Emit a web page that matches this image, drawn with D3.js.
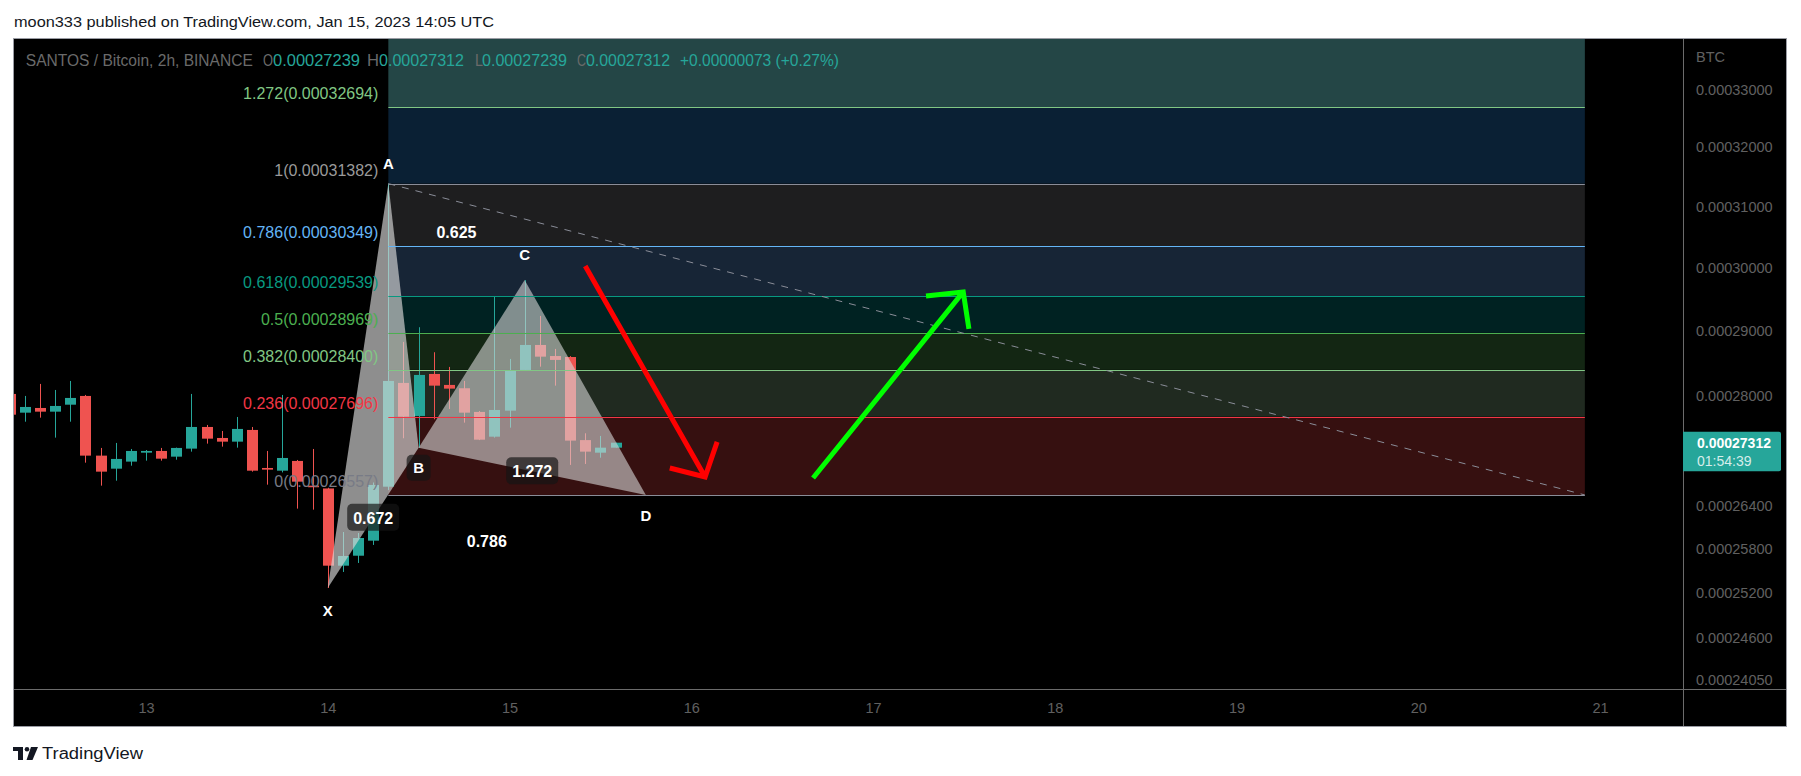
<!DOCTYPE html>
<html><head><meta charset="utf-8">
<script src="https://cdn.jsdelivr.net/npm/d3@7"></script>
<style>html,body{margin:0;padding:0;background:#fff;}svg{display:block;}</style>
</head><body>
<svg id="c" width="1801" height="776"></svg>
<script>
// ---------- DATA (prices in satoshi = 1e-8 BTC) ----------
const candleTimes = ["2023-01-12T06:00Z","2023-01-12T08:00Z","2023-01-12T10:00Z","2023-01-12T12:00Z","2023-01-12T14:00Z","2023-01-12T16:00Z","2023-01-12T18:00Z","2023-01-12T20:00Z","2023-01-12T22:00Z",
"2023-01-13T00:00Z","2023-01-13T02:00Z","2023-01-13T04:00Z","2023-01-13T06:00Z","2023-01-13T08:00Z","2023-01-13T10:00Z","2023-01-13T12:00Z","2023-01-13T14:00Z","2023-01-13T16:00Z","2023-01-13T18:00Z","2023-01-13T20:00Z","2023-01-13T22:00Z",
"2023-01-14T00:00Z","2023-01-14T02:00Z","2023-01-14T04:00Z","2023-01-14T06:00Z","2023-01-14T08:00Z","2023-01-14T10:00Z","2023-01-14T12:00Z","2023-01-14T14:00Z","2023-01-14T16:00Z","2023-01-14T18:00Z","2023-01-14T20:00Z","2023-01-14T22:00Z",
"2023-01-15T00:00Z","2023-01-15T02:00Z","2023-01-15T04:00Z","2023-01-15T06:00Z","2023-01-15T08:00Z","2023-01-15T10:00Z","2023-01-15T12:00Z","2023-01-15T14:00Z"];
const opens  = [28035,27755,27825,27770,27874,28005,27123,26934,27036,27166,27191,27108,27225,27543,27381,27327,27499,26944,26905,27046,26690,26650,25569,25706,25914,26675,28201,27706,28337,28171,28121,27766,27400,27785,28398,28781,28611,28596,27350,27166,27239];
const highs  = [28060,28005,28186,28095,28231,28020,27235,27308,27220,27205,27235,27240,28035,27573,27484,27691,27543,27191,28020,27060,27220,26660,26035,26021,26735,31382,28828,29056,28669,28444,28231,27780,29547,28566,29800,29232,28720,28610,27450,27411,27312];
const lows   = [27700,27621,27681,27386,27621,27021,26690,26761,26977,27050,27050,27064,27181,27298,27254,27239,26891,26704,26880,26363,26349,25265,25483,25606,25855,26628,27377,27239,27657,27810,27607,27350,27386,27533,28383,28448,28160,26988,27002,27093,27239];
const closes = [27725,27840,27770,27855,27975,27123,26891,27075,27191,27191,27079,27235,27543,27371,27327,27514,26905,26920,27089,26747,26667,25569,25702,25951,26700,28231,27696,28322,28160,28115,27755,27356,27795,28383,28781,28601,28551,27342,27181,27239,27312];

const fibRatios = ["0","0.236","0.382","0.5","0.618","0.786","1","1.272","1.618"];
const fibPrices = [26557,27696,28400,28969,29539,30349,31382,32694,34364];
const fibSpan   = ["2023-01-14T08:00Z","2023-01-20T22:00Z"];

const patternNames  = ["X","A","B","C","D"];
const patternTimes  = ["2023-01-14T00:00Z","2023-01-14T08:00Z","2023-01-14T12:00Z","2023-01-15T02:00Z","2023-01-15T18:00Z"];
const patternPrices = [25265,31382,27239,29800,26557];
const ratioTexts = ["0.672","0.625","1.272","0.786"];   // XB, AC, BD, XD
const ratioLegs  = [[0,2],[1,3],[2,4],[0,4]];

const trendTimes  = ["2023-01-14T08:00Z","2023-01-20T22:00Z"];
const trendPrices = [31382,26557];

const redArrowTimes   = ["2023-01-15T10:00Z","2023-01-16T01:50Z","2023-01-15T21:10Z","2023-01-16T03:25Z"]; // start, tip, wing1, wing2
const redArrowPrices  = [30027,26815,26944,27323];
const greenArrowTimes = ["2023-01-16T16:05Z","2023-01-17T11:55Z","2023-01-17T07:00Z","2023-01-17T12:40Z"];
const greenArrowPrices= [26800,29611,29547,29029];

const priceTicks = [33000,32000,31000,30000,29000,28000,26400,25800,25200,24600,24050];
const dayTicks = ["2023-01-13","2023-01-14","2023-01-15","2023-01-16","2023-01-17","2023-01-18","2023-01-19","2023-01-20","2023-01-21"];

const headerText = "moon333 published on TradingView.com, Jan 15, 2023 14:05 UTC";
const legendTexts = ["SANTOS / Bitcoin, 2h, BINANCE","O","0.00027239","H","0.00027312","L","0.00027239","C","0.00027312","+0.00000073 (+0.27%)"];
const lastPrice = 27312, countdown = "01:54:39";

// ---------- STYLE ----------
const F = "'Liberation Sans', Arial, sans-serif";
const UP = "#26a69a", DOWN = "#ef5350";
const zoneColors = ["#361010","#202a20","#132613","#002222","#172536","#1e1e1f","#0a2034","#244646"];
const lineColors = ["#8a8d98","#f23645","#81c784","#4caf50","#089981","#64b5f6","#8a8d98","#81c784","#2962ff"];
const labelColors= ["#787b86","#f23645","#81c784","#4caf50","#089981","#64b5f6","#9a9a9a","#81c784","#2962ff"];
const axisText = "#606060";

const P = {l:13, r:1683, t:38, b:689, right:1787, bottom:727};
const svg = d3.select("#c");
const T = s => new Date(s);

const x = d3.scaleUtc().domain([T("2023-01-13T00:00Z"), T("2023-01-21T00:00Z")]).range([146, 1600]);
const y = d3.scaleLog().domain([23933, 33930]).range([P.b, P.t]);

// page / chart background
svg.append("rect").attr("width",1801).attr("height",776).attr("fill","#fff");
svg.append("rect").attr("x",P.l).attr("y",P.t).attr("width",P.right-P.l).attr("height",P.bottom-P.t).attr("fill","#000");

svg.append("defs").append("clipPath").attr("id","pc").append("rect")
  .attr("x",P.l).attr("y",P.t).attr("width",P.r-P.l).attr("height",P.b-P.t);
const g = svg.append("g").attr("clip-path","url(#pc)");

// header
svg.append("text").attr("x",14).attr("y",27).attr("font-family",F).attr("font-size",15.5)
  .attr("fill","#131722").attr("textLength",480).attr("lengthAdjust","spacingAndGlyphs").text(headerText);

// fib zones
const fx0 = x(T(fibSpan[0])), fx1 = x(T(fibSpan[1]));
for (let i=0;i<fibPrices.length-1;i++){
  g.append("rect").attr("x",fx0).attr("width",fx1-fx0)
   .attr("y",y(fibPrices[i+1])).attr("height",y(fibPrices[i])-y(fibPrices[i+1]))
   .attr("fill",zoneColors[i]);
}

// candles
const bw = 11;
candleTimes.forEach((t,i)=>{
  const cx = Math.round(x(T(t)))+0.5, up = closes[i]>=opens[i], col = up?UP:DOWN;
  g.append("line").attr("x1",cx).attr("x2",cx).attr("y1",y(highs[i])).attr("y2",y(lows[i])).attr("stroke",col).attr("stroke-width",1);
  const top = y(Math.max(opens[i],closes[i])), bot = y(Math.min(opens[i],closes[i]));
  g.append("rect").attr("x",cx-bw/2).attr("width",bw).attr("y",top).attr("height",Math.max(1.5,bot-top)).attr("fill",col);
});

// pattern triangles
const pp = patternTimes.map((t,i)=>[x(T(t)), y(patternPrices[i])]);
g.append("polygon").attr("points",[pp[0],pp[1],pp[2]].map(p=>p.join(",")).join(" ")).attr("fill","rgba(215,215,215,0.66)");
g.append("polygon").attr("points",[pp[2],pp[3],pp[4]].map(p=>p.join(",")).join(" ")).attr("fill","rgba(215,215,215,0.6)");

// fib lines
fibPrices.forEach((p,i)=>{
  const yy = Math.round(y(p))+0.5;
  g.append("line").attr("x1",fx0).attr("x2",fx1).attr("y1",yy).attr("y2",yy).attr("stroke",lineColors[i]).attr("stroke-width",1);
});

// trend dashed line
g.append("line").attr("x1",x(T(trendTimes[0]))).attr("y1",y(trendPrices[0]))
 .attr("x2",x(T(trendTimes[1]))).attr("y2",y(trendPrices[1]))
 .attr("stroke","#8a8d98").attr("stroke-width",1).attr("stroke-dasharray","7,7");

// fib labels (only those inside the plot)
fibPrices.forEach((p,i)=>{
  if (y(p) - 20 < P.t) return;
  g.append("text").attr("x",fx0-10).attr("y",y(p)-8).attr("text-anchor","end")
   .attr("font-family",F).attr("font-size",16).attr("fill",labelColors[i])
   .text(`${fibRatios[i]}(${(p/1e8).toFixed(8)})`);
});

// ratio labels (boxes visible where they sit over the pattern fill)
const boxFill = "rgba(20,20,20,0.68)";
const ratioBoxed = [true,false,true,false];
ratioLegs.forEach((leg,i)=>{
  const mx=(pp[leg[0]][0]+pp[leg[1]][0])/2, my=(pp[leg[0]][1]+pp[leg[1]][1])/2;
  if (ratioBoxed[i]) g.append("rect").attr("x",mx-26).attr("y",my-14).attr("width",52).attr("height",27).attr("rx",5).attr("fill",boxFill);
  g.append("text").attr("x",mx).attr("y",my).attr("dy","0.36em").attr("text-anchor","middle")
   .attr("font-family",F).attr("font-size",16).attr("font-weight","bold").attr("fill","#fff").text(ratioTexts[i]);
});

// point labels
const off = [23,-20,20,-25,21];
patternNames.forEach((n,i)=>{
  if(n==="B") g.append("rect").attr("x",pp[i][0]-12).attr("y",pp[i][1]+off[i]-13).attr("width",24).attr("height",26).attr("rx",5).attr("fill",boxFill);
  g.append("text").attr("x",pp[i][0]).attr("y",pp[i][1]+off[i]).attr("dy","0.36em").attr("text-anchor","middle")
   .attr("font-family",F).attr("font-size",15).attr("font-weight","bold").attr("fill","#fff").text(n);
});

// arrows
function arrow(times, prices, col){
  const q = times.map((t,i)=>[x(T(t)), y(prices[i])]);
  g.append("path").attr("d",`M${q[0]}L${q[1]}M${q[2]}L${q[1]}L${q[3]}`)
   .attr("fill","none").attr("stroke",col).attr("stroke-width",5).attr("stroke-linejoin","miter").attr("stroke-linecap","butt");
}
arrow(redArrowTimes, redArrowPrices, "#ff0000");
arrow(greenArrowTimes, greenArrowPrices, "#00ff00");

// legend
const legendX = [25.8,263,273,367,379,475,482,577,586,680];
const legendW = [227,10,87,12,85,8,85,9,84,159];
legendTexts.forEach((s,i)=>{
  const grey = i===0 || i===1 || i===3 || i===5 || i===7;
  svg.append("text").attr("x",legendX[i]).attr("y",66).attr("font-family",F).attr("font-size",16)
   .attr("fill", grey ? "#6a6a6a" : UP).attr("textLength",legendW[i]).attr("lengthAdjust","spacingAndGlyphs").text(s);
});

// separators & border
svg.append("line").attr("x1",P.r+0.5).attr("x2",P.r+0.5).attr("y1",P.t).attr("y2",P.bottom).attr("stroke","#6b6b6b");
svg.append("line").attr("x1",P.l).attr("x2",P.right).attr("y1",P.b+0.5).attr("y2",P.b+0.5).attr("stroke","#6b6b6b");
svg.append("rect").attr("x",P.l+0.5).attr("y",P.t+0.5).attr("width",P.right-P.l-1).attr("height",P.bottom-P.t-1)
  .attr("fill","none").attr("stroke","#9a9ca4");

// price axis
const ya = svg.append("g").attr("transform",`translate(${P.r},0)`)
  .call(d3.axisRight(y).tickValues(priceTicks).tickSize(0).tickPadding(13).tickFormat(d=>(d/1e8).toFixed(8)));
ya.select(".domain").remove();
ya.selectAll("text").attr("font-family",F).attr("font-size",14.5).attr("fill",axisText);
svg.append("text").attr("x",1696).attr("y",62).attr("font-family",F).attr("font-size",14.5).attr("fill",axisText).text("BTC");

// time axis
const xa = svg.append("g").attr("transform",`translate(0,${P.b})`)
  .call(d3.axisBottom(x).tickValues(dayTicks.map(d=>T(d+"T00:00Z"))).tickSize(0).tickPadding(14).tickFormat(d=>d.getUTCDate()));
xa.select(".domain").remove();
xa.selectAll("text").attr("font-family",F).attr("font-size",14.5).attr("fill",axisText);

// last price label
const ly = y(lastPrice);
svg.append("path").attr("d",`M${P.r},${ly-11}H${1779}a2,2 0 0 1 2,2V${ly+26.5}a2,2 0 0 1 -2,2H${P.r}Z`).attr("fill",UP);
svg.append("text").attr("x",1697).attr("y",ly+5).attr("font-family",F).attr("font-size",14).attr("font-weight","bold").attr("fill","#fff").text((lastPrice/1e8).toFixed(8));
svg.append("text").attr("x",1697).attr("y",ly+23).attr("font-family",F).attr("font-size",14).attr("fill","rgba(255,255,255,0.82)").text(countdown);

// footer logo
const lg = svg.append("g").attr("fill","#131722");
lg.append("rect").attr("x",13).attr("y",747).attr("width",10).attr("height",4);
lg.append("rect").attr("x",18).attr("y",747).attr("width",5).attr("height",13);
lg.append("circle").attr("cx",27).attr("cy",749.3).attr("r",2.3);
lg.append("path").attr("d","M31,747H38L32.5,760H26.5Z");
svg.append("text").attr("x",42).attr("y",759).attr("font-family",F).attr("font-size",16).attr("fill","#131722")
  .attr("textLength",101).attr("lengthAdjust","spacingAndGlyphs").text("TradingView");
</script>
</body></html>
